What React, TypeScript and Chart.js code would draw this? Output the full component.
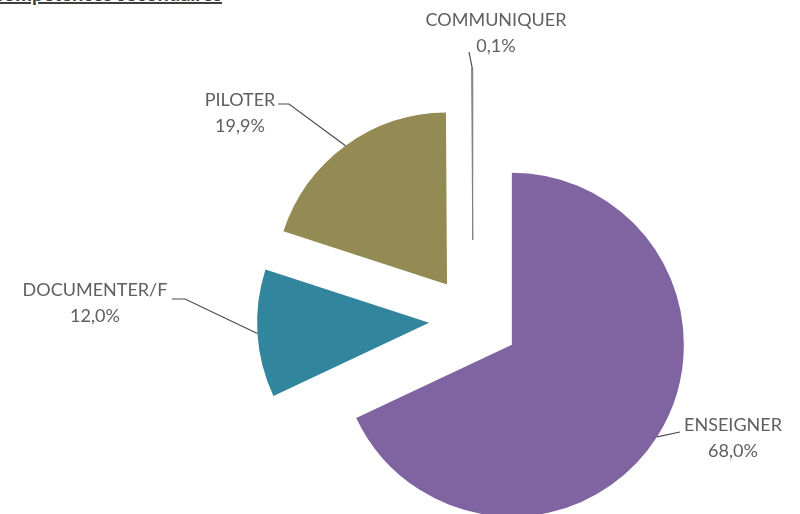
import React, { useEffect, useRef } from "react";
import { Chart, registerables } from "chart.js";

Chart.register(...registerables);

const categories = ["ENSEIGNER", "DOCUMENTER/F", "PILOTER", "COMMUNIQUER"];
const shares = [68.0, 12.0, 19.9, 0.1];
const valueLabels = ["68,0%", "12,0%", "19,9%", "0,1%"];
const titleText = "Compétences secondaires";

const sliceColors = ["#8064A2", "#31859C", "#948A54", "#7F7F7F"];
const explodeDistances = [46, 44, 44, 80];

type Pt = [number, number];
const labelLayout: { x: number; y: number; elbow: Pt | null; end: Pt }[] = [
  { x: 733, y: 425, elbow: null, end: [680, 432] },
  { x: 95, y: 290, elbow: [185, 299], end: [172, 299] },
  { x: 240, y: 100, elbow: [289, 104], end: [278, 104] },
  { x: 496, y: 20, elbow: null, end: [469, 52] },
];

const LABEL_FONT = "18px Lato, 'Open Sans', sans-serif";
const LABEL_COLOR = "#5f5f5f";
const LINE_GAP = 26;

const explodePlugin = {
  id: "explodeSlices",
  beforeDatasetDraw(chart: any, args: any) {
    const ctx = chart.ctx;
    args.meta.data.forEach((arc: any, i: number) => {
      const mid = (arc.startAngle + arc.endAngle) / 2;
      const d = explodeDistances[i] || 0;
      ctx.save();
      ctx.translate(Math.cos(mid) * d, Math.sin(mid) * d);
      arc.draw(ctx);
      ctx.restore();
    });
    return false;
  },
  afterDatasetsDraw(chart: any) {
    const ctx = chart.ctx;
    const meta = chart.getDatasetMeta(0);
    const labels = chart.data.labels as string[];
    meta.data.forEach((arc: any, i: number) => {
      const mid = (arc.startAngle + arc.endAngle) / 2;
      const d = explodeDistances[i] || 0;
      const ax = arc.x + Math.cos(mid) * (d + arc.outerRadius);
      const ay = arc.y + Math.sin(mid) * (d + arc.outerRadius);
      const lay = labelLayout[i];
      ctx.save();
      ctx.strokeStyle = "#4a4a4a";
      ctx.lineWidth = 1.2;
      ctx.beginPath();
      ctx.moveTo(ax, ay);
      if (lay.elbow) ctx.lineTo(lay.elbow[0], lay.elbow[1]);
      ctx.lineTo(lay.end[0], lay.end[1]);
      ctx.stroke();
      ctx.font = LABEL_FONT;
      ctx.fillStyle = LABEL_COLOR;
      ctx.textAlign = "center";
      ctx.textBaseline = "middle";
      ctx.fillText(labels[i], lay.x, lay.y);
      ctx.fillText(valueLabels[i], lay.x, lay.y + LINE_GAP);
      ctx.restore();
    });
  },
};

export default function App() {
  const canvasRef = useRef<HTMLCanvasElement | null>(null);

  useEffect(() => {
    if (!canvasRef.current) return;
    const chart = new Chart(canvasRef.current, {
      type: "pie",
      data: {
        labels: categories,
        datasets: [
          {
            data: shares,
            backgroundColor: sliceColors,
            borderColor: sliceColors,
            borderWidth: [0, 0, 0, 1],
            radius: 172,
          } as any,
        ],
      },
      options: {
        responsive: false,
        animation: false,
        events: [],
        layout: { padding: { left: 146, top: 126, right: 0, bottom: 0 } },
        plugins: {
          legend: { display: false },
          tooltip: { enabled: false },
          title: { display: false },
        },
      },
      plugins: [explodePlugin],
    });
    return () => chart.destroy();
  }, []);

  return (
    <div
      style={{
        position: "absolute",
        left: 0,
        top: 0,
        width: 800,
        height: 514,
        overflow: "hidden",
        background: "#ffffff",
      }}
    >
      <div
        style={{
          position: "absolute",
          right: 578,
          top: -17,
          whiteSpace: "nowrap",
          fontFamily: "Lato, 'Open Sans', sans-serif",
          fontWeight: 700,
          fontSize: 20,
          lineHeight: "20px",
          color: "#404040",
          textDecoration: "underline",
        }}
      >
        {titleText}
      </div>
      <canvas
        ref={canvasRef}
        width={800}
        height={514}
        style={{ position: "absolute", left: 0, top: 0 }}
      />
    </div>
  );
}
